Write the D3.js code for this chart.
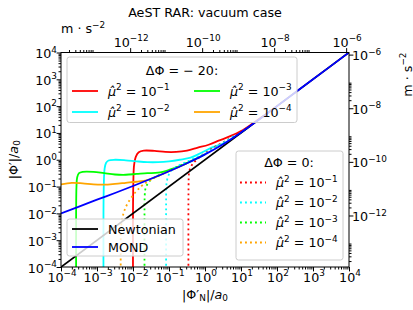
<!DOCTYPE html>
<html>
<head>
<meta charset="utf-8">
<title>AeST RAR: vacuum case</title>
<style>
  body { margin: 0; background: #fff; }
  svg { font-family: "DejaVu Sans", sans-serif; }
  .tick line { stroke: #000; stroke-width: 1px; }
  .domain { display: none; }
  .frame { fill: none; stroke: #000; stroke-width: 1px; }
  .curve { fill: none; stroke-width: 1.8px; }
  .dotted { stroke-dasharray: 1.9, 3.1; }
  .legendbox { fill: #fff; fill-opacity: 0.8; stroke: #cccccc; stroke-width: 1px; }
</style>
</head>
<body>
<svg width="413" height="310"></svg>
<script src="https://d3js.org/d3.v7.min.js"></script>
<script>

// ---- data (log10 values) ----
var a0 = 1.2e-10;                       // m s^-2
var xDecades = [-4, -3, -2, -1, 0, 1, 2, 3, 4];
var yDecades = [-4, -3, -2, -1, 0, 1, 2, 3, 4];
var topDecades = [-12, -10, -8, -6];    // m s^-2 labels, top axis
var rightDecades = [-12, -10, -8, -6];  // m s^-2 labels, right axis

var newtonian = [[-4, -4], [4, 4]];
var mond = [[-4, -2.0], [-3.5, -1.75], [-3, -1.49], [-2.5, -1.24], [-2, -0.98],
            [-1.5, -0.71], [-1, -0.43], [-0.5, -0.13], [0, 0.2], [0.5, 0.58],
            [1, 1.02], [1.5, 1.5], [2, 2.0], [3, 3.0], [4, 4.0]];

// Delta Phi = -20
var dp20_mu1 = [[-2.0, -4.5], [-2.0, -2.0], [-1.99, -0.8], [-1.97, -0.2], [-1.92, 0.12],
                [-1.84, 0.28], [-1.7, 0.34], [-1.4, 0.33], [-1.1, 0.29], [-0.8, 0.29],
                [-0.5, 0.34], [-0.2, 0.45], [0.1, 0.56], [0.4, 0.72], [0.7, 0.88],
                [1.0, 1.07], [1.3, 1.33], [1.6, 1.61], [2.0, 2.0]];
var dp20_mu2 = [[-2.82, -4.5], [-2.82, -2.0], [-2.81, -0.9], [-2.79, -0.35], [-2.75, -0.12],
                [-2.68, -0.03], [-2.5, 0.0], [-2.2, -0.02], [-1.9, -0.06], [-1.6, -0.09],
                [-1.3, -0.09], [-1.0, -0.06], [-0.7, 0.0], [-0.4, 0.08], [-0.1, 0.26],
                [0.2, 0.46], [0.5, 0.6], [0.8, 0.83], [1.2, 1.2]];
var dp20_mu3 = [[-3.58, -4.5], [-3.58, -2.0], [-3.57, -1.0], [-3.55, -0.65], [-3.5, -0.5],
                [-3.4, -0.45], [-3.1, -0.45], [-2.8, -0.5], [-2.5, -0.55], [-2.2, -0.56],
                [-1.9, -0.53], [-1.6, -0.5], [-1.3, -0.48], [-1.0, -0.38], [-0.7, -0.24],
                [-0.4, -0.06], [0, 0.2]];
var dp20_mu4 = [[-4, -0.92], [-3.7, -0.86], [-3.4, -0.88], [-3.1, -0.92], [-2.8, -0.93],
                [-2.5, -0.9], [-2.2, -0.86], [-1.9, -0.82], [-1.6, -0.76], [-1.3, -0.6],
                [-1.0, -0.43], [-0.5, -0.13]];

// Delta Phi = 0
var dp0_mu1 = [[-0.46, -4.5], [-0.46, -1.5], [-0.455, -0.8], [-0.45, -0.55], [-0.42, -0.35],
               [-0.35, -0.17], [-0.25, -0.02], [-0.1, 0.15], [0.1, 0.33], [0.3, 0.5],
               [0.6, 0.72], [0.9, 0.96], [1.2, 1.22], [1.6, 1.61]];
var dp0_mu2 = [[-1.08, -4.5], [-1.08, -1.5], [-1.075, -1.0], [-1.06, -0.8], [-1.02, -0.6],
               [-0.96, -0.45], [-0.88, -0.34], [-0.75, -0.23], [-0.55, -0.1], [-0.3, 0.05],
               [0, 0.23], [0.4, 0.55], [0.8, 0.88]];
var dp0_mu3 = [[-1.68, -4.5], [-1.68, -1.8], [-1.675, -1.35], [-1.66, -1.12], [-1.62, -0.96],
               [-1.55, -0.82], [-1.45, -0.7], [-1.3, -0.59], [-1.1, -0.47], [-0.8, -0.28],
               [-0.5, -0.12]];
var dp0_mu4 = [[-2.34, -4.5], [-2.34, -2.9], [-2.33, -2.5], [-2.3, -2.2], [-2.24, -1.9],
               [-2.14, -1.61], [-1.95, -1.24], [-1.77, -0.99], [-1.6, -0.82], [-1.4, -0.67],
               [-1.1, -0.48]];

var muColors = ["#ff0000", "#00ffff", "#00ff00", "#ffa500"];
var muExps = ["\u22121", "\u22122", "\u22123", "\u22124"];
var dp20Series = [dp20_mu1, dp20_mu2, dp20_mu3, dp20_mu4];
var dp0Series = [dp0_mu1, dp0_mu2, dp0_mu3, dp0_mu4];

// ---- layout ----
var svg = d3.select("svg");
var fs = 12.7;
var pL = 61, pR = 349, pT = 52.5, pB = 267;

var x = d3.scaleLog().domain([1e-4, 1e4]).range([pL, pR]);
var y = d3.scaleLog().domain([1e-4, 1e4]).range([pB, pT]);
var xTop = d3.scaleLog().domain([1e-4 * a0, 1e4 * a0]).range([pL, pR]);
var yRight = d3.scaleLog().domain([1e-4 * a0, 1e4 * a0]).range([pB, pT]);

function minorTicks(scale, step) {
  var d = scale.domain(), out = [];
  var lo = Math.floor(Math.log10(d[0])), hi = Math.ceil(Math.log10(d[1]));
  lo -= ((lo % step) + step) % step;
  for (var e = lo; e <= hi; e += step)
    for (var k = 2; k < 10; k++) {
      var v = k * Math.pow(10, e);
      if (v >= d[0] && v <= d[1]) out.push(v);
    }
  return out;
}
function pow10(arr) { return arr.map(function (e) { return Math.pow(10, e); }); }

function drawAxis(axisFn, scale, majors, minors, tx, ty) {
  svg.append("g").attr("class", "axis").attr("transform", "translate(" + tx + "," + ty + ")")
    .call(axisFn(scale).tickValues(minors).tickSize(2.5).tickSizeOuter(0).tickFormat(""));
  svg.append("g").attr("class", "axis").attr("transform", "translate(" + tx + "," + ty + ")")
    .call(axisFn(scale).tickValues(majors).tickSize(4.4).tickSizeOuter(0).tickFormat(""));
}

drawAxis(d3.axisBottom, x, pow10(xDecades), minorTicks(x, 1), 0, pB);
drawAxis(d3.axisLeft, y, pow10(yDecades), minorTicks(y, 1), pL, 0);
drawAxis(d3.axisTop, xTop, pow10(topDecades), minorTicks(xTop, 2), 0, pT);
drawAxis(d3.axisRight, yRight, pow10(rightDecades), minorTicks(yRight, 2), pR, 0);

// "10^e" label with mathtext-like superscript
function powLabel(sel, e) {
  sel.append("tspan").text("10");
  sel.append("tspan").attr("font-size", fs * 0.7).attr("dy", -fs * 0.42)
    .text(e < 0 ? "\u2212" + (-e) : String(e));
}
function supText(sel, base, sup, italic) {
  var t = sel.append("tspan").text(base);
  if (italic) t.attr("font-style", "italic");
  sel.append("tspan").attr("font-size", fs * 0.7).attr("dy", -fs * 0.42).text(sup);
}

xDecades.forEach(function (e) {
  svg.append("text").attr("x", x(Math.pow(10, e)) + 1).attr("y", 281.5)
    .attr("text-anchor", "middle").attr("font-size", fs).call(powLabel, e);
});
yDecades.forEach(function (e) {
  svg.append("text").attr("x", 57).attr("y", y(Math.pow(10, e)) + 5.5)
    .attr("text-anchor", "end").attr("font-size", fs).call(powLabel, e);
});
topDecades.forEach(function (e) {
  svg.append("text").attr("x", xTop(Math.pow(10, e)) + 1).attr("y", 46.5)
    .attr("text-anchor", "middle").attr("font-size", fs).call(powLabel, e);
});
rightDecades.forEach(function (e) {
  svg.append("text").attr("x", 352).attr("y", yRight(Math.pow(10, e)) + 5.5)
    .attr("text-anchor", "start").attr("font-size", fs).call(powLabel, e);
});

// ---- curves ----
svg.append("clipPath").attr("id", "plotclip").append("rect")
  .attr("x", pL).attr("y", pT).attr("width", pR - pL).attr("height", pB - pT);

var line = d3.line()
  .x(function (d) { return x(Math.pow(10, d[0])); })
  .y(function (d) { return y(Math.pow(10, d[1])); })
  .curve(d3.curveCatmullRom.alpha(0.5));

var plot = svg.append("g").attr("clip-path", "url(#plotclip)");
dp20Series.forEach(function (s, i) {
  plot.append("path").attr("class", "curve").attr("stroke", muColors[i]).attr("d", line(s));
});
dp0Series.forEach(function (s, i) {
  plot.append("path").attr("class", "curve dotted").attr("stroke", muColors[i]).attr("d", line(s));
});
plot.append("path").attr("class", "curve").attr("stroke", "#000").attr("d", line(newtonian));
plot.append("path").attr("class", "curve").attr("stroke", "#0000ff").attr("d", line(mond));

svg.append("rect").attr("class", "frame")
  .attr("x", pL).attr("y", pT).attr("width", pR - pL).attr("height", pB - pT);

// ---- legends ----
function legendBox(x0, y0, w, h) {
  svg.append("rect").attr("class", "legendbox").attr("x", x0).attr("y", y0)
    .attr("width", w).attr("height", h).attr("rx", 2.5);
}
function handle(x0, yy, color, dotted) {
  svg.append("line").attr("class", "curve" + (dotted ? " dotted" : ""))
    .attr("stroke", color).attr("x1", x0).attr("x2", x0 + 26).attr("y1", yy).attr("y2", yy);
}
function muEntry(x0, yy, i, dotted) {
  handle(x0, yy, muColors[i], dotted);
  var t = svg.append("text").attr("x", x0 + 36).attr("y", yy + 4.5).attr("font-size", fs);
  supText(t, "\u03bc\u0302", "2", true);
  t.append("tspan").attr("dy", fs * 0.42).text(" = 10");
  t.append("tspan").attr("font-size", fs * 0.7).attr("dy", -fs * 0.42).text(muExps[i]);
}

legendBox(67, 57, 230, 65.5);
svg.append("text").attr("x", 182).attr("y", 75).attr("text-anchor", "middle")
  .attr("font-size", fs).text("\u0394\u03a6 = \u2212 20:");
muEntry(72, 91, 0, false);
muEntry(72, 112, 1, false);
muEntry(194, 91, 2, false);
muEntry(194, 112, 3, false);

legendBox(236, 151, 107, 109);
svg.append("text").attr("x", 289).attr("y", 167).attr("text-anchor", "middle")
  .attr("font-size", fs).text("\u0394\u03a6 = 0:");
[0, 1, 2, 3].forEach(function (i) { muEntry(240, 182.5 + i * 20, i, true); });

legendBox(67, 219, 116, 37);
handle(72, 229, "#000", false);
handle(72, 247, "#0000ff", false);
svg.append("text").attr("x", 108).attr("y", 233.5).attr("font-size", fs).text("Newtonian");
svg.append("text").attr("x", 108).attr("y", 251.5).attr("font-size", fs).text("MOND");

// ---- titles and axis labels ----
svg.append("text").attr("x", 205).attr("y", 16.5).attr("text-anchor", "middle")
  .attr("font-size", fs).text("AeST RAR: vacuum case");

var tl = svg.append("text").attr("x", 61).attr("y", 33).attr("font-size", fs);
supText(tl, "m \u00b7 s", "\u22122", false);

var rl = svg.append("text").attr("transform", "translate(411.5," + pT + ") rotate(-90)")
  .attr("text-anchor", "end").attr("font-size", fs);
supText(rl, "m \u00b7 s", "\u22122", false);

var xl = svg.append("text").attr("x", 205).attr("y", 298.5).attr("text-anchor", "middle")
  .attr("font-size", fs);
xl.append("tspan").text("|\u03a6\u2032");
xl.append("tspan").attr("font-size", fs * 0.7).attr("dy", fs * 0.2).text("N");
xl.append("tspan").attr("dy", -fs * 0.2).text("|/");
xl.append("tspan").attr("font-style", "italic").text("a");
xl.append("tspan").attr("font-size", fs * 0.7).attr("dy", fs * 0.2).text("0");

var yl = svg.append("text").attr("transform", "translate(17.5," + ((pT + pB) / 2) + ") rotate(-90)")
  .attr("text-anchor", "middle").attr("font-size", fs);
yl.append("tspan").text("|\u03a6\u2032|/");
yl.append("tspan").attr("font-style", "italic").text("a");
yl.append("tspan").attr("font-size", fs * 0.7).attr("dy", fs * 0.2).text("0");

</script>
</body>
</html>
